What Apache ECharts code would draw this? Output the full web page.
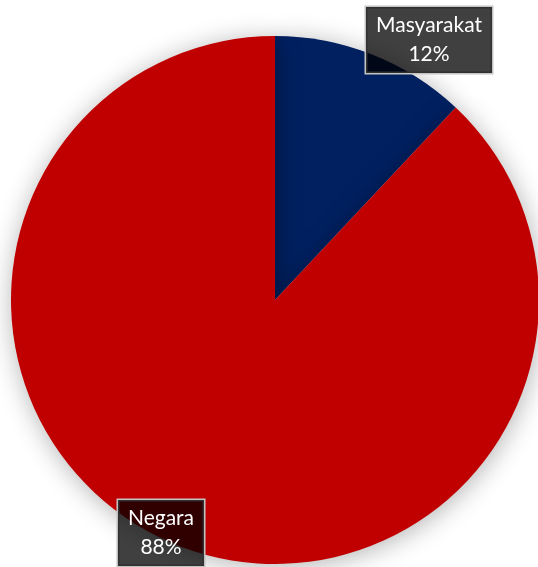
<!DOCTYPE html>
<html>
<head>
<meta charset="utf-8">
<style>
  html, body { margin: 0; padding: 0; background: #ffffff; }
  #chart { width: 538px; height: 567px; }
</style>
<script src="https://cdn.jsdelivr.net/npm/echarts@6/dist/echarts.min.js"></script>
</head>
<body>
<div id="chart"></div>
<script>
// Share of funding by source (percent)
const categories = ['Masyarakat', 'Negara'];
const values = [12, 88];
const sliceColors = ['#002060', '#C00000'];

// Label anchor points (centre of each callout box), in pixels
const labelAnchors = [[429, 40], [161, 533]];

const chart = echarts.init(document.getElementById('chart'), null, { renderer: 'canvas' });

chart.setOption({
  animation: false,
  series: [{
    type: 'pie',
    center: [275, 300],
    radius: [0, 264],
    startAngle: 90,
    clockwise: true,
    data: categories.map((name, i) => ({
      name: name,
      value: values[i],
      itemStyle: { color: sliceColors[i] }
    })),
    itemStyle: {
      borderWidth: 0,
      shadowBlur: 26,
      shadowColor: 'rgba(0,0,0,0.3)',
      shadowOffsetX: 1,
      shadowOffsetY: 3
    },
    label: {
      show: true,
      position: 'inside',
      overflow: 'none',
      formatter: p => p.name + '\n' + Math.round(p.percent) + '%',
      color: '#ffffff',
      fontFamily: 'Lato, "Open Sans", sans-serif',
      fontSize: 21,
      lineHeight: 29,
      align: 'center',
      backgroundColor: 'rgba(0,0,0,0.75)',
      borderColor: '#c4c4c4',
      borderWidth: 1.5,
      padding: [4, 10, 4, 10]
    },
    labelLine: { show: false },
    labelLayout: function (params) {
      const a = labelAnchors[params.dataIndex];
      return { x: a[0], y: a[1], align: 'center', verticalAlign: 'middle' };
    },
    emphasis: { disabled: true }
  }]
});
</script>
</body>
</html>
